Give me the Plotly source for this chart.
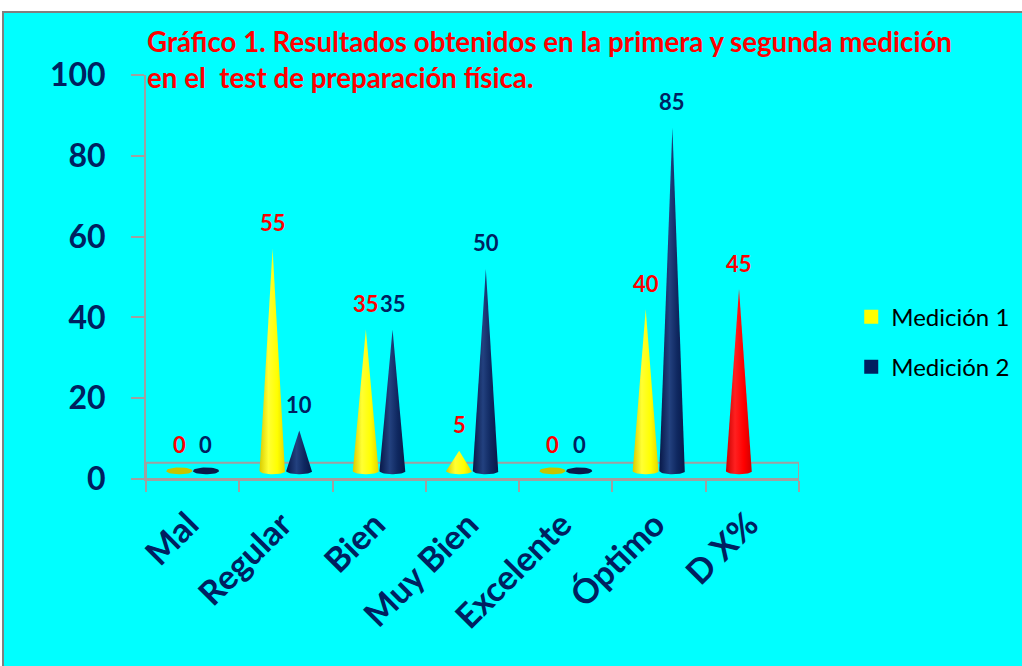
import numpy as np
import plotly.graph_objects as go

# ---------------- data ----------------
categories = ["Mal", "Regular", "Bien", "Muy Bien", "Excelente", "Óptimo", "D X%"]
medicion_1 = [0, 55, 35, 5, 0, 40, 45]
medicion_2 = [0, 10, 35, 50, 0, 85, None]
series_names = ["Medición 1", "Medición 2"]
y_ticks = [0, 20, 40, 60, 80, 100]
title_lines = ["Gráfico 1. Resultados obtenidos en la primera y segunda medición",
               "en el \u00a0test de preparación física."]
highlight_category = "D X%"

# ---------------- style ----------------
NAVY = "#002060"
RED = "#FF0000"
CYAN = "#00FFFF"
GRAY = "#A0A0A0"
FONT = "Lato"

YELLOW_SCALE = [[0, "#D9CC00"], [0.35, "#FFFF33"], [0.7, "#FFFF00"], [1, "#E6D800"]]
NAVY_SCALE = [[0, "#081848"], [0.4, "#23417F"], [0.7, "#0F2860"], [1, "#081848"]]
RED_SCALE = [[0, "#C80000"], [0.35, "#FF2020"], [0.7, "#FF0000"], [1, "#D00000"]]
YELLOW_FLAT = "#C8C400"
NAVY_FLAT = "#0A1A4A"

OFFSET = 0.143   # half distance between series within category (category units)
HALF_W = 0.14    # cone base half-width (category units)
DEPTH = 2.0      # 3D depth offset of the cone base (value units)
RY = 0.85        # vertical semi-axis of the base ellipse (value units)

fig = go.Figure()


def add_cone(xc, v, scale, flat):
    if v == 0:
        th = np.linspace(0, 2 * np.pi, 40)
        fig.add_trace(go.Scatter(x=xc + HALF_W * np.cos(th), y=DEPTH + RY * np.sin(th),
                                 mode="lines", fill="toself", fillcolor=flat,
                                 line=dict(width=0), hoverinfo="skip", showlegend=False))
        return
    th = np.linspace(0, np.pi, 30)
    xs = np.concatenate([[xc], xc + HALF_W * np.cos(th), [xc]])
    ys = np.concatenate([[DEPTH + v], DEPTH - RY * np.sin(th), [DEPTH + v]])
    fig.add_trace(go.Scatter(x=xs, y=ys, mode="lines", fill="toself",
                             fillgradient=dict(type="horizontal", colorscale=scale),
                             line=dict(width=0), hoverinfo="skip", showlegend=False))


annotations = []
for i, cat in enumerate(categories):
    for s, vals in enumerate([medicion_1, medicion_2]):
        v = vals[i]
        if v is None:
            continue
        xc = i - OFFSET if s == 0 else i + OFFSET
        if s == 0:
            scale = RED_SCALE if cat == highlight_category else YELLOW_SCALE
            flat = YELLOW_FLAT
            tcol = RED
        else:
            scale = NAVY_SCALE
            flat = NAVY_FLAT
            tcol = NAVY
        add_cone(xc, v, scale, flat)
        annotations.append(dict(x=xc, y=v + DEPTH, xref="x", yref="y", text=str(v),
                                showarrow=False, yshift=26, yanchor="middle",
                                font=dict(family=FONT, size=22, color=tcol, weight="bold")))

# legend entries
for name, col in zip(series_names, ["#FFFF00", NAVY]):
    fig.add_trace(go.Scatter(x=[None], y=[None], mode="markers", name=name,
                             legendgroup=name,
                             marker=dict(symbol="square", size=14, color=col)))

# title
annotations.append(dict(x=-0.0015, y=1.0817, xref="paper", yref="paper", xanchor="left",
                        yanchor="middle", text=title_lines[0], showarrow=False,
                        font=dict(family=FONT, size=27.7, color=RED, weight="bold")))
annotations.append(dict(x=-0.0015, y=0.9926, xref="paper", yref="paper", xanchor="left",
                        yanchor="middle", text=title_lines[1], showarrow=False,
                        font=dict(family=FONT, size=27.7, color=RED, weight="bold")))

shapes = [
    # outer chart area
    dict(type="rect", xref="paper", yref="paper", x0=-0.219, x1=1.4, y0=-0.7, y1=1.156,
         fillcolor=CYAN, line=dict(color="#808080", width=2), layer="below"),
    # floor
    dict(type="rect", xref="x", yref="y", x0=-0.5, x1=6.5, y0=0, y1=4,
         line=dict(color=GRAY, width=2), layer="below"),
]

fig.update_layout(
    width=1022, height=666,
    margin=dict(l=146, r=223, t=75, b=187, autoexpand=False),
    paper_bgcolor="white", plot_bgcolor="rgba(0,0,0,0)",
    annotations=annotations, shapes=shapes,
    showlegend=True,
    legend=dict(x=1.08, y=0.339, xanchor="left", yanchor="middle",
                font=dict(family=FONT, size=24, color="black"),
                tracegroupgap=16, bgcolor="rgba(0,0,0,0)"),
    xaxis=dict(range=[-0.5, 6.5], tickmode="array", tickvals=list(range(len(categories))),
               ticktext=categories, ticks="", tickangle=-45, showgrid=False, zeroline=False,
               showline=True, linecolor=GRAY, linewidth=2, ticklabelstandoff=10,
               ticklabelshift=-4,
               tickfont=dict(family=FONT, size=34, color=NAVY, weight="bold"),
               minor=dict(tickmode="array",
                          tickvals=[k - 0.5 for k in range(len(categories) + 1)],
                          ticks="outside", ticklen=11, tickcolor=GRAY, tickwidth=2,
                          showgrid=False)),
    yaxis=dict(range=[0, 100], tickmode="array", tickvals=y_ticks, ticks="outside",
               ticklen=13, tickcolor=GRAY, tickwidth=2, showgrid=False, zeroline=False,
               showline=True, linecolor=GRAY, linewidth=2, ticklabelstandoff=19,
               tickfont=dict(family=FONT, size=32, color=NAVY, weight="bold")),
)

fig.write_html("out.html")
